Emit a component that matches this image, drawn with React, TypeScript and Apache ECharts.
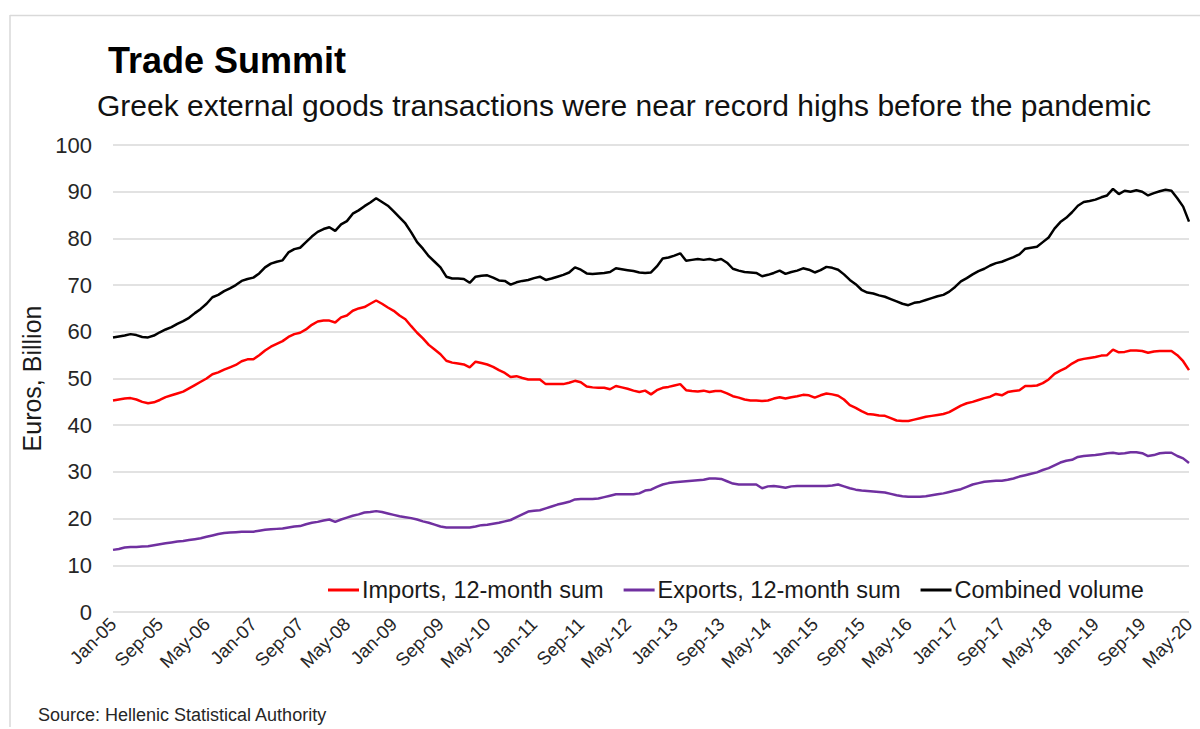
import React, { useEffect, useRef } from "react";
import * as echarts from "echarts";

const MONTH_NAMES = ["Jan", "Feb", "Mar", "Apr", "May", "Jun", "Jul", "Aug", "Sep", "Oct", "Nov", "Dec"];
const FIRST_YEAR = 5; // 2005
const MONTH_COUNT = 185; // Jan-05 .. May-20
const categories: string[] = Array.from({ length: MONTH_COUNT }, (_, i) =>
  `${MONTH_NAMES[i % 12]}-${String(FIRST_YEAR + Math.floor(i / 12)).padStart(2, "0")}`
);

const Y_TICKS = [0, 10, 20, 30, 40, 50, 60, 70, 80, 90, 100];

const imports = [
  45.3, 45.5, 45.7, 45.8, 45.5, 45.0, 44.7, 44.9, 45.4, 46.0, 46.4, 46.8,
  47.2, 47.9, 48.6, 49.3, 50.0, 50.9, 51.3, 51.9, 52.4, 52.9, 53.7, 54.1,
  54.1, 55.0, 56.0, 56.8, 57.4, 58.0, 58.9, 59.5, 59.8, 60.5, 61.5, 62.2,
  62.4, 62.4, 62.0, 63.1, 63.5, 64.5, 65.0, 65.3, 66.0, 66.7, 66.0, 65.2,
  64.5, 63.5, 62.7, 61.2, 59.8, 58.6, 57.2, 56.2, 55.2, 53.8, 53.4, 53.2,
  53.0, 52.4, 53.6, 53.3, 53.0, 52.5, 51.8, 51.2, 50.3, 50.5, 50.1, 49.8,
  49.8, 49.8, 48.8, 48.8, 48.8, 48.8, 49.1, 49.5, 49.2, 48.3, 48.1, 48.0,
  48.0, 47.7, 48.4, 48.1, 47.8, 47.4, 47.1, 47.4, 46.6, 47.5, 48.0, 48.2,
  48.5, 48.8, 47.5, 47.3, 47.2, 47.4, 47.1, 47.3, 47.3, 46.8, 46.2, 45.9,
  45.5, 45.3, 45.3, 45.2, 45.3, 45.7, 46.0, 45.7, 46.0, 46.2, 46.5, 46.4,
  45.9, 46.4, 46.8, 46.6, 46.3, 45.5, 44.3, 43.7, 43.0, 42.4, 42.3, 42.1,
  42.0, 41.5, 41.0, 40.9, 40.9, 41.2, 41.5, 41.8, 42.0, 42.2, 42.4, 42.8,
  43.5, 44.2, 44.7, 45.0, 45.4, 45.8, 46.1, 46.7, 46.4, 47.1, 47.3, 47.5,
  48.4, 48.4, 48.5, 49.0, 49.8, 51.0, 51.7, 52.3, 53.2, 53.9, 54.2, 54.4,
  54.6, 54.9, 55.0, 56.2, 55.6, 55.7, 56.0, 56.0, 55.9, 55.5, 55.8, 55.9,
  55.9, 55.9, 55.0, 53.7, 51.8,
];

const exportsSum = [
  13.3, 13.5, 13.8, 13.9, 13.9, 14.0, 14.1, 14.3, 14.5, 14.7, 14.9, 15.1,
  15.2, 15.4, 15.6, 15.8, 16.1, 16.4, 16.7, 16.9, 17.0, 17.1, 17.2, 17.2,
  17.2, 17.4, 17.6, 17.7, 17.8, 17.9, 18.1, 18.3, 18.4, 18.8, 19.1, 19.3,
  19.6, 19.8, 19.3, 19.8, 20.2, 20.6, 20.9, 21.3, 21.4, 21.6, 21.4, 21.1,
  20.8, 20.5, 20.3, 20.1, 19.8, 19.4, 19.1, 18.7, 18.3, 18.1, 18.1, 18.1,
  18.1, 18.1, 18.3, 18.6, 18.7, 18.9, 19.1, 19.4, 19.7, 20.3, 20.9, 21.5,
  21.7, 21.8, 22.2, 22.6, 23.0, 23.3, 23.6, 24.1, 24.2, 24.2, 24.2, 24.3,
  24.6, 24.9, 25.2, 25.2, 25.2, 25.2, 25.4, 26.0, 26.2, 26.8, 27.3, 27.6,
  27.8, 27.9, 28.0, 28.1, 28.2, 28.3, 28.6, 28.6, 28.5, 28.0, 27.5, 27.3,
  27.3, 27.3, 27.3, 26.5, 26.9, 27.0, 26.8, 26.6, 26.9, 27.0, 27.0, 27.0,
  27.0, 27.0, 27.0, 27.1, 27.3, 26.9, 26.5, 26.2, 26.0, 25.9, 25.8, 25.7,
  25.6, 25.3, 25.0, 24.8, 24.7, 24.7, 24.7, 24.8, 25.0, 25.2, 25.4, 25.7,
  26.0, 26.3, 26.8, 27.3, 27.6, 27.9, 28.0, 28.1, 28.1, 28.3, 28.6, 29.0,
  29.3, 29.6, 29.9, 30.4, 30.8, 31.4, 32.0, 32.4, 32.6, 33.2, 33.4, 33.5,
  33.6, 33.8, 34.0, 34.1, 33.9, 34.0, 34.2, 34.2, 34.0, 33.4, 33.6, 34.0,
  34.1, 34.1, 33.4, 32.9, 31.9,
];

const combined = [
  58.8, 59.0, 59.2, 59.5, 59.3, 58.9, 58.8, 59.2, 59.9, 60.5, 61.0, 61.7,
  62.3, 63.0, 64.0, 64.9, 66.0, 67.4, 67.9, 68.7, 69.3, 70.0, 70.9, 71.3,
  71.6, 72.5, 73.8, 74.6, 75.0, 75.3, 77.0, 77.7, 78.0, 79.2, 80.4, 81.4,
  82.0, 82.4, 81.6, 83.0, 83.7, 85.3, 86.0, 86.9, 87.7, 88.6, 87.8, 87.0,
  85.8, 84.5, 83.2, 81.3, 79.2, 77.8, 76.2, 75.0, 73.8, 71.8, 71.4, 71.4,
  71.3, 70.5, 71.8, 72.0, 72.1, 71.6, 71.0, 70.9, 70.1, 70.6, 70.9, 71.1,
  71.5, 71.8, 71.1, 71.4, 71.8, 72.2, 72.7, 73.8, 73.3, 72.5, 72.4, 72.5,
  72.6, 72.8, 73.6, 73.4, 73.2, 73.0, 72.7, 72.6, 72.7, 74.0, 75.7, 75.9,
  76.3, 76.8, 75.2, 75.4, 75.6, 75.4, 75.6, 75.3, 75.6, 74.8, 73.5, 73.1,
  72.8, 72.7, 72.6, 71.9, 72.2, 72.6, 73.1, 72.4, 72.8, 73.1, 73.6, 73.3,
  72.7, 73.2, 73.9, 73.7, 73.3, 72.3, 71.1, 70.2, 69.0, 68.4, 68.2, 67.8,
  67.5, 67.0, 66.5, 66.0, 65.7, 66.2, 66.4, 66.8, 67.2, 67.6, 67.9, 68.6,
  69.6, 70.8, 71.5, 72.3, 73.0, 73.5, 74.2, 74.7, 75.0, 75.5, 76.0, 76.6,
  77.8, 78.0, 78.2, 79.2, 80.2, 82.1, 83.5, 84.4, 85.6, 87.0, 87.8, 88.0,
  88.3, 88.8, 89.2, 90.6, 89.5, 90.2, 90.0, 90.3, 90.0, 89.2, 89.7, 90.1,
  90.4, 90.2, 88.6, 86.8, 83.6,
];

const SERIES_NAMES = ["Imports, 12-month sum", "Exports, 12-month sum", "Combined volume"];
const SERIES_COLORS = ["#ff0000", "#7030a0", "#000000"];

const TITLE = "Trade Summit";
const SUBTITLE = "Greek external goods transactions were near record highs before the pandemic";
const SOURCE = "Source: Hellenic Statistical Authority";
const Y_NAME = "Euros, Billion";

const FONT = "'Liberation Sans', Arial, Helvetica, sans-serif";

export default function App() {
  const ref = useRef<HTMLDivElement>(null);

  useEffect(() => {
    document.body.style.margin = "0";
    if (!ref.current) return;
    const chart = echarts.init(ref.current, undefined, { renderer: "svg" });
    const seriesData = [imports, exportsSum, combined];
    chart.setOption({
      animation: false,
      backgroundColor: "#ffffff",
      textStyle: { fontFamily: FONT },
      grid: { left: 113, right: 11, top: 145, bottom: 117, containLabel: false },
      legend: {
        left: 323,
        top: 573,
        icon: "rect",
        itemWidth: 31,
        itemHeight: 3,
        itemGap: 20,
        textStyle: { fontFamily: FONT, fontSize: 23.5, color: "#1a1a1a", padding: [0, 0, 0, -2] },
        data: SERIES_NAMES,
      },
      xAxis: {
        type: "category",
        data: categories,
        boundaryGap: false,
        axisLine: { show: false },
        axisTick: { show: false },
        splitLine: { show: false },
        axisLabel: {
          interval: 7,
          rotate: 45,
          margin: 9,
          fontFamily: FONT,
          fontSize: 18.5,
          color: "#262626",
        },
      },
      yAxis: {
        type: "value",
        min: 0,
        max: 100,
        interval: 10,
        name: Y_NAME,
        nameLocation: "middle",
        nameGap: 66,
        nameTextStyle: { fontFamily: FONT, fontSize: 25, color: "#1a1a1a" },
        axisLine: { show: false },
        axisTick: { show: false },
        axisLabel: {
          margin: 21,
          fontFamily: FONT,
          fontSize: 22,
          color: "#262626",
          formatter: (v: number) => (Y_TICKS.includes(v) ? String(v) : ""),
        },
        splitLine: { show: true, lineStyle: { color: "#d9d9d9", width: 1.5 } },
      },
      series: SERIES_NAMES.map((name, k) => ({
        name,
        type: "line",
        data: seriesData[k],
        showSymbol: false,
        symbol: "none",
        smooth: false,
        color: SERIES_COLORS[k],
        lineStyle: { color: SERIES_COLORS[k], width: 2.5 },
        z: 3 + k,
      })),
      graphic: [
        {
          type: "line",
          shape: { x1: 10, y1: 15.5, x2: 1200, y2: 15.5 },
          style: { stroke: "#d9d9d9", lineWidth: 1.5 },
          silent: true,
        },
        {
          type: "line",
          shape: { x1: 10, y1: 15, x2: 10, y2: 727 },
          style: { stroke: "#d9d9d9", lineWidth: 1.5 },
          silent: true,
        },
        {
          type: "text",
          left: 108,
          top: 42,
          style: { text: TITLE, fontFamily: FONT, fontSize: 36, fontWeight: "bold", fill: "#000000" },
        },
        {
          type: "text",
          left: 97,
          top: 90,
          style: { text: SUBTITLE, fontFamily: FONT, fontSize: 30, fill: "#111111" },
        },
        {
          type: "text",
          left: 38,
          top: 706,
          style: { text: SOURCE, fontFamily: FONT, fontSize: 18, fill: "#262626" },
        },
      ],
    });
    return () => chart.dispose();
  }, []);

  return <div ref={ref} style={{ width: 1200, height: 729 }} />;
}
